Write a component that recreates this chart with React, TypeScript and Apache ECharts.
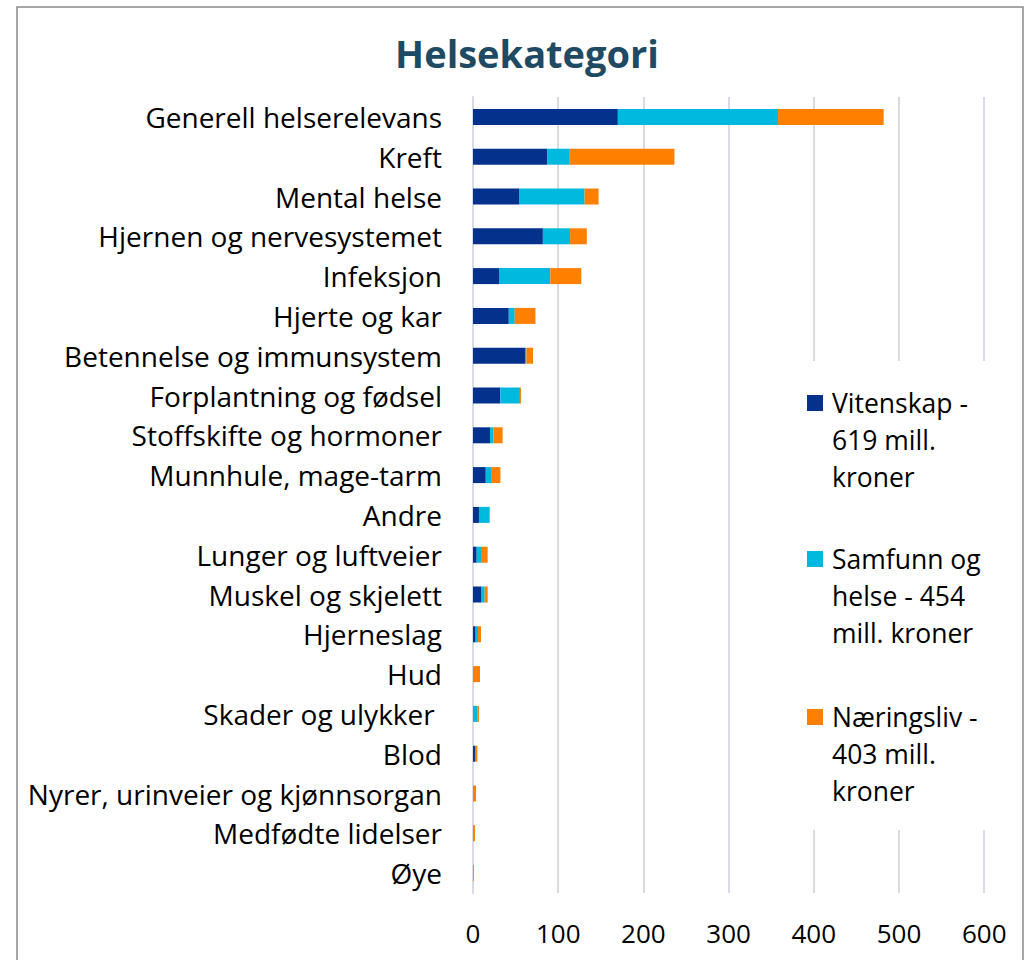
import React, { useEffect, useRef } from "react";
import * as echarts from "echarts";

const categories = [
  "Generell helserelevans",
  "Kreft",
  "Mental helse",
  "Hjernen og nervesystemet",
  "Infeksjon",
  "Hjerte og kar",
  "Betennelse og immunsystem",
  "Forplantning og fødsel",
  "Stoffskifte og hormoner",
  "Munnhule, mage-tarm",
  "Andre",
  "Lunger og luftveier",
  "Muskel og skjelett",
  "Hjerneslag",
  "Hud",
  "Skader og ulykker ",
  "Blod",
  "Nyrer, urinveier og kjønnsorgan",
  "Medfødte lidelser",
  "Øye",
];

const vitenskap = [170, 87, 54, 82, 30.5, 42, 61, 32, 20, 15, 7, 4.3, 9.4, 3.1, 0, 0, 2.3, 0, 0, 0];
const samfunn = [188, 26.6, 77, 32, 60.2, 7, 1.6, 23.1, 3.9, 6.2, 12.6, 5.1, 4.3, 2.8, 0, 5.5, 0, 0, 0, 0];
const naeringsliv = [124, 122.8, 16.4, 19.6, 36.4, 24.3, 7.8, 1.2, 10.9, 11, 0, 7.8, 3.5, 3.5, 8.2, 1.5, 2.8, 3.5, 2.3, 1];

const seriesNames = ["Vitenskap - 619 mill. kroner", "Samfunn og helse - 454 mill. kroner", "Næringsliv - 403 mill. kroner"];
const legendLines = [
  ["Vitenskap -", "619 mill.", "kroner"],
  ["Samfunn og", "helse - 454", "mill. kroner"],
  ["Næringsliv -", "403 mill.", "kroner"],
];
const colors = ["#03318B", "#00B9DF", "#FF7F00"];
const xTicks = { min: 0, max: 600, interval: 100 };

const FONT = "'Open Sans', sans-serif";

export default function App() {
  const ref = useRef<HTMLDivElement>(null);
  useEffect(() => {
    if (!ref.current) return;
    const chart = echarts.init(ref.current, undefined, { renderer: "svg" });
    const dataSets = [vitenskap, samfunn, naeringsliv];
    const legendTops = [384, 540, 698];
    const graphics: any[] = [
      {
        type: "rect",
        shape: { x: 17, y: 7, width: 1006, height: 970 },
        style: { fill: "none", stroke: "#8a8a8a", lineWidth: 1.5 },
        silent: true,
        z: 10,
      },
      {
        type: "rect",
        shape: { x: 798, y: 361, width: 215, height: 469 },
        style: { fill: "#ffffff" },
        silent: true,
        z: 5,
      },
    ];
    legendLines.forEach((lines, i) => {
      const top = legendTops[i];
      graphics.push({
        type: "rect",
        shape: { x: 807, y: top + 11, width: 16, height: 16 },
        style: { fill: colors[i] },
        z: 6,
      });
      graphics.push({
        type: "text",
        x: 832,
        y: top,
        style: {
          text: lines.join("\n"),
          fontFamily: FONT,
          fontSize: 26.5,
          lineHeight: 37,
          fill: "#000000",
          verticalAlign: "top",
          align: "left",
        },
        z: 6,
      });
    });

    chart.setOption({
      animation: false,
      backgroundColor: "#ffffff",
      title: {
        text: "Helsekategori",
        left: 522,
        top: 29,
        textAlign: "center",
        textStyle: { fontFamily: FONT, fontSize: 38, fontWeight: "bold", color: "#1F4A63" },
      },
      grid: { left: 473, top: 97, width: 511.2, height: 796, containLabel: false },
      xAxis: {
        type: "value",
        min: xTicks.min,
        max: xTicks.max,
        interval: xTicks.interval,
        axisLine: { show: false },
        axisTick: { show: false },
        splitLine: { show: true, lineStyle: { color: "#D8DAE6", width: 2 } },
        axisLabel: { fontFamily: FONT, fontSize: 26, color: "#000000", margin: 27 },
      },
      yAxis: {
        type: "category",
        data: categories,
        inverse: true,
        axisLine: { show: true, lineStyle: { color: "#D8DAE6", width: 2 } },
        axisTick: { show: false },
        axisLabel: { fontFamily: FONT, fontSize: 28, color: "#000000", margin: 31 },
      },
      series: dataSets.map((d, i) => ({
        name: seriesNames[i],
        type: "bar",
        stack: "total",
        data: d,
        barWidth: 16,
        itemStyle: { color: colors[i] },
      })),
      graphic: graphics,
    });
    return () => chart.dispose();
  }, []);
  return (
    <div
      ref={ref}
      style={{ position: "absolute", left: 0, top: 0, width: 1029, height: 960 }}
    />
  );
}
